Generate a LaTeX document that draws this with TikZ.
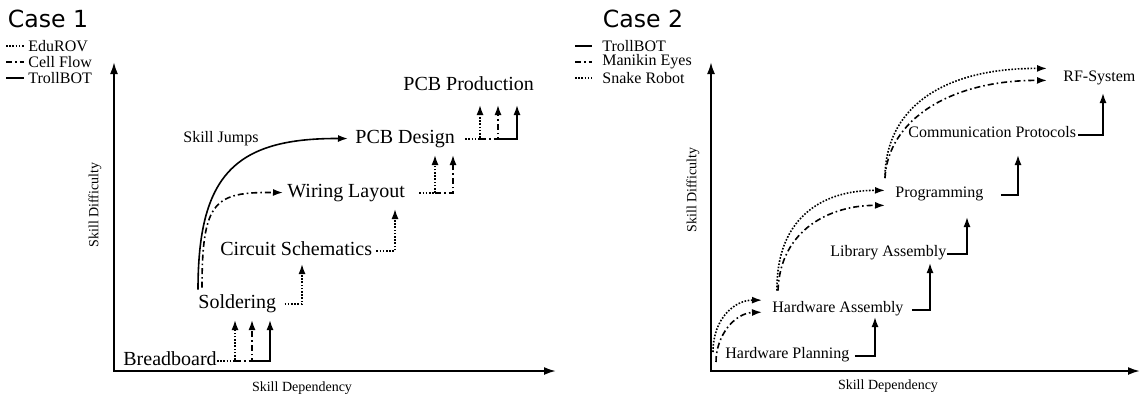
\documentclass[tikz,border=0pt]{standalone}
\usepackage{fontspec}
\setmainfont{Liberation Serif}
\newfontfamily\titlefont{DejaVu Sans}
\usetikzlibrary{arrows.meta}

\tikzset{
  axis/.style={line width=1pt, line join=miter, {Latex[length=6pt,width=4pt]}-{Latex[length=6pt,width=4pt]}},
  tip/.style={-{Latex[length=5pt,width=3.5pt]}},
  fullline/.style={line width=0.8pt},
  dotline/.style={line width=0.8pt, dash pattern=on 0.8pt off 0.8pt},
  dashdotline/.style={line width=0.8pt, dash pattern=on 3pt off 1.5pt on 0.8pt off 1.5pt},
  title/.style={font=\titlefont\fontsize{11.8}{14}\selectfont},
  big/.style={font=\fontsize{10}{12}\selectfont, inner sep=0pt, anchor=base west},
  small/.style={font=\fontsize{8}{10}\selectfont, inner sep=0pt, anchor=base west},
  legend/.style={font=\fontsize{8}{10}\selectfont, inner sep=0pt, anchor=west},
  axlabel/.style={font=\fontsize{7}{9}\selectfont}
}

\begin{document}
\begin{tikzpicture}[x=0.5pt,y=-0.5pt]
\useasboundingbox (0,0) rectangle (1146,398);

% Case 1
\node[title] (case1) at (48,19) {Case 1};
\node[legend] (leg1a) at (28,46) {EduROV};
\node[legend] (leg1b) at (28,62) {Cell Flow};
\node[legend] (leg1c) at (28,78) {TrollBOT};
\draw[dotline] ([xshift=-11pt]leg1a.west) -- ([xshift=-2pt]leg1a.west);
\draw[dashdotline] ([xshift=-11pt]leg1b.west) -- ([xshift=-2pt]leg1b.west);
\draw[fullline] ([xshift=-11pt]leg1c.west) -- ([xshift=-2pt]leg1c.west);

\coordinate (o1) at (114,371);
\draw[axis] (114,62) -- (o1) -- (556,371);
\node[axlabel, rotate=90] (ydiff1) at (95,205) {Skill Difficulty};
\node[axlabel] (xdep1) at (302,388) {Skill Dependency};

\node[big] (bread) at (123,365) {Breadboard};
\node[big] (sold) at (198,308) {Soldering};
\node[big] (circ) at (220,255) {Circuit Schematics};
\node[big] (wire) at (287,197) {Wiring Layout};
\node[big] (pcbd) at (355,143) {PCB Design};
\node[big] (pcbp) at (403,90) {PCB Production};
\node[small] (jumps) at (183,142) {Skill Jumps};

% steps
\coordinate (b0) at ([yshift=2pt]bread.base east);
\coordinate (t1a) at (235,320);
\coordinate (t1b) at (252,320);
\coordinate (t1c) at (270,320);
\draw[dotline,tip] (b0) -| (t1a);
\draw[dashdotline,tip] (b0 -| t1a) -| (t1b);
\draw[fullline,tip] (b0 -| t1b) -| (t1c);

\coordinate (t2a) at (302,264);
\draw[dotline,tip] ([xshift=4pt,yshift=2pt]sold.base east) -| (t2a);

\coordinate (t3a) at (395,209);
\draw[dotline,tip] ([xshift=2pt,yshift=2pt]circ.base east) -| (t3a);

\coordinate (w0) at ([xshift=7pt,yshift=2pt]wire.base east);
\coordinate (t4a) at (435,155);
\coordinate (t4b) at (453,155);
\draw[dotline,tip] (w0) -| (t4a);
\draw[dashdotline,tip] (w0 -| t4a) -| (t4b);

\coordinate (p0) at ([xshift=5pt,yshift=2pt]pcbd.base east);
\coordinate (t5a) at (480,105);
\coordinate (t5b) at (498,105);
\coordinate (t5c) at (517,105);
\draw[dotline,tip] (p0) -| (t5a);
\draw[dashdotline,tip] (p0 -| t5a) -| (t5b);
\draw[fullline,tip] (p0 -| t5b) -| (t5c);

% skill jumps
\draw[fullline,tip] ([yshift=2pt]sold.north west) .. controls (198,175) and (235,138) .. ([xshift=-3.5pt]pcbd.west);
\draw[dashdotline,tip] ([xshift=2pt,yshift=3pt]sold.north west) .. controls (202,200) and (215,192) .. ([xshift=-2pt]wire.west);

% Case 2
\node[title] (case2) at (643,19) {Case 2};
\node[legend] (leg2a) at (602,46) {TrollBOT};
\node[legend] (leg2b) at (602,62) {Manikin Eyes};
\node[legend] (leg2c) at (602,78) {Snake Robot};
\draw[fullline] ([xshift=-13.5pt]leg2a.west) -- ([xshift=-5pt]leg2a.west);
\draw[dashdotline] ([xshift=-13.5pt]leg2b.west) -- ([xshift=-5pt]leg2b.west);
\draw[dotline] ([xshift=-13.5pt]leg2c.west) -- ([xshift=-5pt]leg2c.west);

\coordinate (o2) at (711,371);
\draw[axis] (711,62) -- (o2) -- (1140,371);
\node[axlabel, rotate=90] (ydiff2) at (693,190) {Skill Difficulty};
\node[axlabel] (xdep2) at (888,386) {Skill Dependency};

\node[small] (hplan) at (725,358) {Hardware Planning};
\node[small] (hasm) at (772,312) {Hardware Assembly};
\node[small] (lasm) at (830,256) {Library Assembly};
\node[small] (prog) at (895,197) {Programming};
\node[small] (comm) at (908,137) {Communication Protocols};
\node[small] (rf) at (1063,81) {RF-System};

% steps
\coordinate (u1) at (875,317);
\coordinate (u2) at (930,263);
\coordinate (u3) at (967,217);
\coordinate (u4) at (1018,155);
\coordinate (u5) at (1103,93);
\draw[fullline,tip] ([xshift=2.5pt,yshift=1pt]hplan.base east) -| (u1);
\draw[fullline,tip] ([xshift=4pt,yshift=1pt]hasm.base east) -| (u2);
\draw[fullline,tip] ([yshift=1pt]lasm.base east) -| (u3);
\draw[fullline,tip] ([xshift=8.5pt,yshift=1pt]prog.base east) -| (u4);
\draw[fullline,tip] ([xshift=1pt,yshift=1pt]comm.base east) -| (u5);

% curves
\coordinate (c2dot) at (713,352);
\coordinate (c2dash) at (716,362);
\draw[dotline,tip] (c2dot) .. controls (713,318) and (735,300) .. ([xshift=-5pt,yshift=4pt]hasm.west);
\draw[dashdotline,tip] (c2dash) .. controls (716,335) and (735,313) .. ([xshift=-5pt,yshift=-2pt]hasm.west);
\draw[dotline,tip] ([xshift=2.5pt,yshift=5pt]hasm.north west) .. controls (776,220) and (820,190) .. ([xshift=-5pt,yshift=1.5pt]prog.west);
\draw[dashdotline,tip] ([xshift=3pt,yshift=5pt]hasm.north west) .. controls (780,230) and (830,205) .. ([xshift=-5pt,yshift=-6pt]prog.west);
\draw[dotline,tip] ([xshift=-5pt,yshift=4pt]prog.north west) .. controls (885,110) and (940,68) .. ([xshift=-8pt,yshift=4.5pt]rf.west);
\draw[dashdotline,tip] ([xshift=-5pt,yshift=4pt]prog.north west) .. controls (888,120) and (950,80) .. ([xshift=-8pt,yshift=-1.5pt]rf.west);
\end{tikzpicture}
\end{document}
